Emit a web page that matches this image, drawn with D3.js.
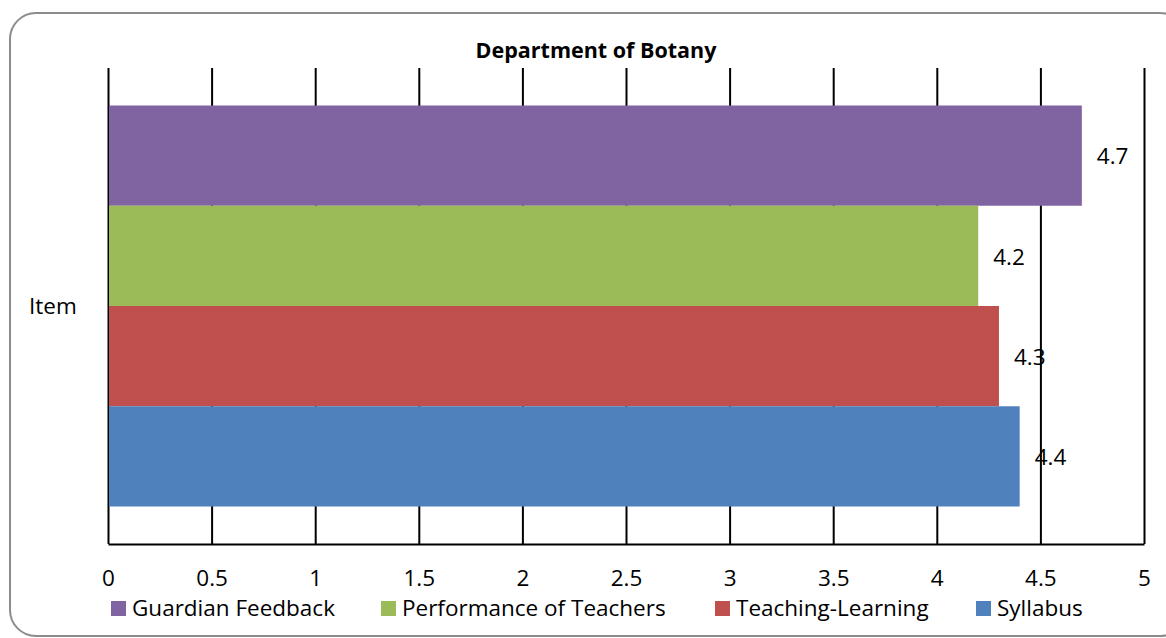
<!DOCTYPE html>
<html>
<head>
<meta charset="utf-8">
<script src="https://cdn.jsdelivr.net/npm/d3@7"></script>
<style>
  body { margin: 0; background: #fff; }
  svg { display: block; font-family: "Open Sans", "Liberation Sans", sans-serif; }
</style>
</head>
<body>
<div id="chart"></div>
<script>
// chart values
const categories = ["Item"];
const seriesNames = ["Guardian Feedback", "Performance of Teachers", "Teaching-Learning", "Syllabus"];
const seriesValues = [4.7, 4.2, 4.3, 4.4];
const seriesColors = ["#8064A2", "#9BBB59", "#C0504D", "#4F81BD"];
const xTicks = [0, 0.5, 1, 1.5, 2, 2.5, 3, 3.5, 4, 4.5, 5];
const chartTitle = "Department of Botany";

(function() {
    const width = 1166;
    const height = 638;
    const fs = 22.5; // body text size

    // plot area
    const left = 108, right = 1144;
    const top = 68, bottom = 544;

    const svg = d3.select("#chart").append("svg")
        .attr("width", width)
        .attr("height", height);

    // outer frame with rounded corners
    svg.append("rect")
        .attr("x", 10).attr("y", 13)
        .attr("width", 1176).attr("height", 623)
        .attr("rx", 26).attr("ry", 26)
        .attr("fill", "#fff")
        .attr("stroke", "#8c8c8c")
        .attr("stroke-width", 2);

    svg.append("text")
        .attr("x", 596).attr("y", 58)
        .attr("text-anchor", "middle")
        .attr("font-size", 21.5)
        .attr("font-weight", "bold")
        .text(chartTitle);

    const x = d3.scaleLinear().domain([0, 5]).range([left, right]);
    const y = d3.scaleBand().domain(categories).range([top, bottom])
        .paddingInner(0).paddingOuter(0.0935);
    const ySeries = d3.scaleBand().domain(seriesNames).range([0, y.bandwidth()]);

    const rows = seriesNames.map((s, i) => ({ name: s, value: seriesValues[i], color: seriesColors[i] }));

    // value labels (sit under the grid lines)
    svg.append("g")
        .selectAll("text")
        .data(rows)
        .enter()
        .append("text")
        .attr("x", d => x(d.value) + 15)
        .attr("y", d => y("Item") + ySeries(d.name) + ySeries.bandwidth() / 2 + 1)
        .attr("dy", "0.35em")
        .attr("font-size", fs)
        .attr("fill", "#000")
        .text(d => d.value);

    // x axis + vertical grid
    const axis = svg.append("g")
        .attr("transform", "translate(0," + bottom + ")")
        .call(d3.axisBottom(x)
            .tickValues(xTicks)
            .tickFormat(d3.format("~g"))
            .tickSizeInner(-(bottom - top))
            .tickSizeOuter(0)
            .tickPadding(26));
    axis.select(".domain").attr("stroke", "#000").attr("stroke-width", 2);
    axis.selectAll(".tick line").attr("stroke", "#000").attr("stroke-width", 2);
    axis.selectAll(".tick text")
        .attr("font-size", fs)
        .attr("font-family", "\"Open Sans\", sans-serif")
        .attr("fill", "#000");

    // bars
    svg.append("g")
        .selectAll("rect")
        .data(rows)
        .enter()
        .append("rect")
        .attr("x", x(0) + 1)
        .attr("y", d => y("Item") + ySeries(d.name))
        .attr("width", d => x(d.value) - x(0) - 1)
        .attr("height", ySeries.bandwidth())
        .attr("fill", d => d.color);

    // category label
    svg.append("text")
        .attr("x", 29)
        .attr("y", y("Item") + y.bandwidth() / 2)
        .attr("dy", "0.35em")
        .attr("font-size", fs)
        .text(categories[0]);

    // legend
    const legendX = [111, 381, 715, 976];
    const legend = svg.append("g")
        .selectAll("g")
        .data(rows)
        .enter()
        .append("g")
        .attr("transform", (d, i) => "translate(" + legendX[i] + ",601)");
    legend.append("rect")
        .attr("width", 15).attr("height", 15)
        .attr("fill", d => d.color);
    legend.append("text")
        .attr("x", 21).attr("y", 15)
        .attr("font-size", fs)
        .text(d => d.name);
})();
</script>
</body>
</html>
